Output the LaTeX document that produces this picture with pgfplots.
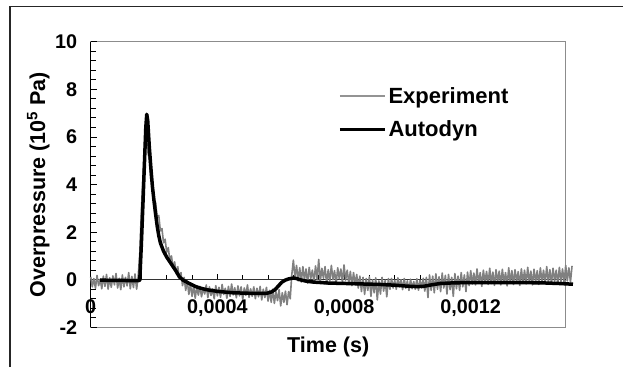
\documentclass[border=0pt]{standalone}
\usepackage{fontspec}
\setmainfont{Liberation Sans}
\usepackage{pgfplots}
\pgfplotsset{compat=1.18}
\definecolor{expgray}{RGB}{128,128,128}
\definecolor{framegray}{RGB}{140,140,140}

\pgfplotstableread{
t y
0 0.12
5 -0.30
10 0.05
15 -0.36
20 0.18
25 -0.25
30 0.02
35 -0.38
40 0.15
45 -0.28
50 0.22
55 -0.40
60 0.08
65 -0.32
70 0.16
75 -0.22
80 0.26
85 -0.35
90 0.06
95 -0.42
100 0.20
105 -0.30
110 0.10
115 -0.26
120 0.30
125 -0.38
130 0.14
135 -0.33
140 0.24
145 -0.40
150 0.15
155 1.10
160 2.90
165 4.30
170 5.50
175 6.10
180 5.40
185 5.05
190 4.20
195 4.10
200 3.30
205 3.25
210 2.60
215 2.70
220 2.05
225 2.15
230 1.55
235 1.70
240 1.15
245 1.35
250 0.80
255 1.00
260 0.50
265 0.75
270 0.25
275 0.55
280 0.05
285 0.30
290 -0.25
295 0.10
300 -0.45
305 -0.05
310 -0.62
315 -0.18
320 -0.70
325 -0.25
330 -0.78
335 -0.30
340 -0.65
345 -0.28
350 -0.72
355 -0.35
360 -0.60
365 -0.22
370 -0.75
375 -0.30
380 -0.66
385 -0.38
390 -0.80
395 -0.25
400 -0.68
405 -0.32
410 -0.74
415 -0.20
420 -0.62
425 -0.36
430 -0.78
435 -0.28
440 -0.70
445 -0.18
450 -0.64
455 -0.34
460 -0.76
465 -0.26
470 -0.68
475 -0.30
480 -0.82
485 -0.35
490 -0.66
495 -0.22
500 -0.74
505 -0.38
510 -0.70
515 -0.30
520 -0.80
525 -0.36
530 -0.72
535 -0.28
540 -0.85
545 -0.40
550 -0.75
555 -0.32
560 -0.90
565 -0.45
570 -0.95
575 -0.40
580 -1.00
585 -0.50
590 -0.88
595 -0.42
600 -1.10
605 -0.55
610 -0.95
615 -0.48
620 -1.05
625 -0.50
630 -0.80
635 0.20
640 0.82
645 0.10
650 0.60
655 -0.05
660 0.50
665 -0.10
670 0.55
675 0.00
680 0.45
685 -0.15
690 0.52
695 0.05
700 0.40
705 -0.12
710 0.58
715 0.02
720 0.85
725 -0.08
730 0.48
735 0.06
740 0.55
745 -0.18
750 0.42
755 -0.05
760 0.60
765 0.00
770 0.38
775 -0.20
780 0.50
785 0.04
790 0.45
795 -0.10
800 0.62
805 -0.02
810 0.40
815 -0.15
820 0.35
825 -0.25
830 0.30
835 -0.20
840 0.22
845 -0.35
850 0.15
855 -0.50
860 0.10
865 -0.62
870 0.05
875 -0.45
880 0.12
885 -0.70
890 0.00
895 -0.55
900 0.08
905 -0.85
910 -0.05
915 -0.60
920 0.10
925 -0.48
930 -0.02
935 -0.72
940 0.05
945 -0.40
950 0.05
955 -0.35
960 -0.02
965 -0.40
970 0.08
975 -0.30
980 0.00
985 -0.42
990 0.05
995 -0.36
1000 -0.05
1005 -0.45
1010 0.02
1015 -0.38
1020 -0.08
1025 -0.40
1030 0.04
1035 -0.44
1040 -0.02
1045 -0.35
1050 0.06
1055 -0.48
1060 0.10
1065 -0.75
1070 0.20
1075 -0.45
1080 0.15
1085 -0.55
1090 0.25
1095 -0.40
1100 0.12
1105 -0.50
1110 0.28
1115 -0.35
1120 0.18
1125 -0.60
1130 0.22
1135 -0.42
1140 0.10
1145 -0.70
1150 0.26
1155 -0.38
1160 0.15
1165 -0.45
1170 0.30
1175 -0.30
1180 0.20
1185 -0.50
1190 0.32
1195 -0.25
1200 0.38
1205 -0.18
1210 0.28
1215 -0.22
1220 0.45
1225 -0.15
1230 0.30
1235 -0.28
1240 0.40
1245 -0.12
1250 0.35
1255 -0.20
1260 0.48
1265 -0.16
1270 0.32
1275 -0.24
1280 0.42
1285 -0.10
1290 0.36
1295 -0.22
1300 0.44
1305 -0.14
1310 0.30
1315 -0.26
1320 0.50
1325 -0.12
1330 0.38
1335 -0.20
1340 0.42
1345 -0.08
1350 0.34
1355 -0.24
1360 0.46
1365 -0.15
1370 0.40
1375 -0.18
1380 0.52
1385 -0.10
1390 0.36
1395 -0.22
1400 0.44
1405 -0.12
1410 0.38
1415 -0.20
1420 0.50
1425 -0.08
1430 0.40
1435 -0.16
1440 0.55
1445 -0.10
1450 0.42
1455 -0.14
1460 0.48
1465 -0.06
1470 0.40
1475 -0.18
1480 0.52
1485 -0.08
1490 0.45
1495 -0.12
1500 0.60
1505 -0.05
1510 0.50
1515 -0.10
1520 0.58
}\exptable

\pgfplotstableread{
t y
30 -0.02
150 -0.04
155 -0.02
160 1.5
165 3.2
170 5.0
174 6.4
177 6.95
180 6.7
185 5.6
190 4.7
195 3.9
200 3.3
205 2.75
210 2.25
215 1.85
220 1.55
230 1.2
240 0.95
250 0.75
260 0.55
270 0.35
280 0.12
292 -0.02
310 -0.15
330 -0.28
345 -0.35
366 -0.42
400 -0.49
450 -0.55
500 -0.57
556 -0.57
570 -0.52
582 -0.42
593 -0.26
603 -0.11
614 -0.02
624 0.03
640 0.07
650 0.05
661 0.0
680 -0.06
703 -0.10
750 -0.14
808 -0.16
860 -0.18
914 -0.20
960 -0.23
998 -0.27
1030 -0.29
1050 -0.28
1075 -0.22
1103 -0.16
1150 -0.13
1230 -0.12
1300 -0.12
1419 -0.13
1480 -0.16
1523 -0.19
}\autotable

\begin{document}
\begin{tikzpicture}
\useasboundingbox (0pt,0pt) rectangle (623pt,367pt);
\draw[line width=1.2pt, black!85] (10pt,0pt) -- (10pt,360.5pt) -- (623pt,360.5pt);
\begin{axis}[
  at={(90.7pt,39.7pt)}, anchor=south west,
  scale only axis, width=475pt, height=285.6pt,
  xmin=0, xmax=1500, ymin=-2, ymax=10,
  clip=false,
  axis x line=middle, axis y line=left,
  axis line style={-, line width=1pt},
  x axis line style={black!80},
  y axis line style={black},
  axis background/.style={draw=framegray, line width=1.2pt},
  hide obscured x ticks=false, hide obscured y ticks=false,
  xtick={0,400,800,1200},
  xticklabels={0,{0,0004},{0,0008},{0,0012}},
  minor x tick num=4,
  ytick={-2,0,2,4,6,8,10},
  minor y tick num=4,
  tick align=inside,
  major tick length=6pt, minor tick length=5pt,
  tick style={black, line width=0.8pt},
  /pgf/number format/assume math mode=true,
  tick label style={font=\fontsize{19.8}{22}\selectfont\bfseries},
  xticklabel style={anchor=north, yshift=-16pt},
  yticklabel style={anchor=east, xshift=-10pt},
  xlabel={Time (s)},
  ylabel={Overpressure (10\textsuperscript{5} Pa)},
  x label style={at={(axis description cs:0.5,-0.0875)}, anchor=base,
    font=\fontsize{21.5}{24}\selectfont\bfseries},
  y label style={at={(axis description cs:-0.0962,0.5)}, anchor=base,
    font=\fontsize{21.5}{24}\selectfont\bfseries},
  legend image code/.code={\draw[#1] (0pt,0pt) -- (45pt,0pt);},
  legend cell align=left,
  legend style={draw=none, fill=none, at={(rel axis cs:0.514,0.855)}, anchor=north west,
    font=\fontsize{22}{24}\selectfont\bfseries, row sep=12pt},
]
\addplot[expgray, line width=1.6pt, line join=round, forget plot] table[x=t,y=y] {\exptable};
\addlegendimage{expgray!85, line width=1.2pt}
\addlegendentry{Experiment}
\addplot[black, line width=3.5pt, line join=round] table[x=t,y=y] {\autotable};
\addlegendentry{Autodyn}
\end{axis}
\end{tikzpicture}
\end{document}
